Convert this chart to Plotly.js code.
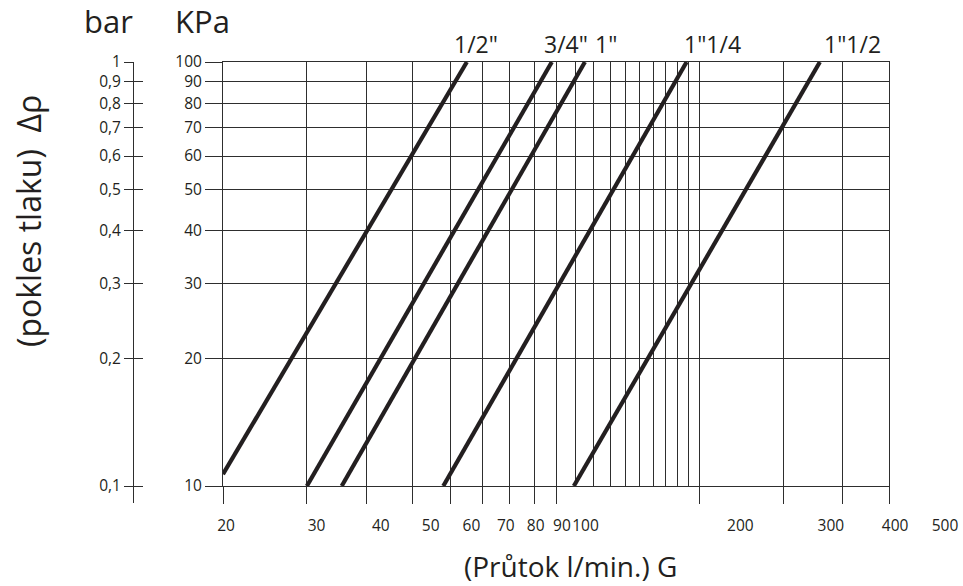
<!DOCTYPE html>
<html>
<head>
<meta charset="utf-8">
<script src="https://cdn.plot.ly/plotly-3.0.1.min.js"></script>
<style>html,body{margin:0;padding:0;background:#fff}#chart{width:963px;height:586px}</style>
</head>
<body>
<div id="chart"></div>
<script>
// ---- data ----
const sizes = ['1/2"', '3/4"', '1"', '1"1/4', '1"1/2'];
const flowStart = [20, 30, 35.5, 58, 109];      // G (l/min) at lower end
const flowEnd   = [65, 98, 115, 188, 358];      // G (l/min) at upper end
const dpStart   = [10.66, 10, 10, 10, 10];      // Δp (kPa) at lower end
const dpEnd     = [100, 100, 100, 100, 100];    // Δp (kPa) at upper end

const flowTicks = [20, 30, 40, 50, 60, 70, 80, 90, 100, 200, 300, 400, 500];
const flowMinor = [110, 120, 130, 140, 150, 160, 170, 180, 190];
const kpaTicks  = [10, 20, 30, 40, 50, 60, 70, 80, 90, 100];
const barTicks  = [0.1, 0.2, 0.3, 0.4, 0.5, 0.6, 0.7, 0.8, 0.9, 1];
const barText   = ['0,1', '0,2', '0,3', '0,4', '0,5', '0,6', '0,7', '0,8', '0,9', '1'];

// ---- style / layout helpers ----
const labelShift = [9, 14, 21, 26, 33];
const W = 963, H = 586, T = 62, B = 60;
const PH = H - T - B;
const px2x = p => p / W;
const px2y = p => (H - B - p) / PH;
const ink = '#231f20';
const grid = '#2e2e2e';
const GW = 1;
const FONT = '"Open Sans", "Noto Sans", sans-serif';
const TICK = 15.5;

const traces = sizes.map((s, i) => ({
  type: 'scatter', mode: 'lines', name: s,
  x: [flowStart[i], flowEnd[i]],
  y: [dpStart[i], dpEnd[i]],
  line: {color: ink, width: 4.2},
  xaxis: 'x', yaxis: 'y', showlegend: false, hoverinfo: 'skip'
}));
// dummy traces so that the auxiliary axes are drawn
traces.push({type: 'scatter', x: [], y: [], xaxis: 'x2', yaxis: 'y2', showlegend: false});
traces.push({type: 'scatter', x: [], y: [], xaxis: 'x2', yaxis: 'y3', showlegend: false});

const yBottom = px2y(486);
const barBottom = px2y(503);
const barRange = [-1 - (503 - 486) / (486 - 62), 0];

const annotations = sizes.map((s, i) => ({
  text: s, xref: 'x', yref: 'paper', x: Math.log10(flowEnd[i]), y: px2y(44),
  xanchor: 'center', yanchor: 'middle', xshift: labelShift[i], showarrow: false,
  font: {family: FONT, size: 23, color: ink}
}));
annotations.push(
  {text: 'bar', xref: 'paper', yref: 'paper', x: px2x(108), y: px2y(21), showarrow: false,
   xanchor: 'center', yanchor: 'middle', font: {family: FONT, size: 31, color: ink}},
  {text: 'KPa', xref: 'paper', yref: 'paper', x: px2x(202), y: px2y(21), showarrow: false,
   xanchor: 'center', yanchor: 'middle', font: {family: FONT, size: 31, color: ink}},
  {text: '(pokles tlaku)\u00a0\u00a0Δρ', xref: 'paper', yref: 'paper', x: px2x(28), y: px2y(221),
   showarrow: false, textangle: -90, xanchor: 'center', yanchor: 'middle',
   font: {family: FONT, size: 32, color: ink}},
  {text: '(Průtok l/min.) G', xref: 'paper', yref: 'paper', x: px2x(570), y: px2y(566),
   showarrow: false, xanchor: 'center', yanchor: 'middle',
   font: {family: FONT, size: 28, color: ink}}
);

const layout = {
  width: W, height: H,
  margin: {l: 0, r: 0, t: T, b: B, pad: 0},
  paper_bgcolor: '#ffffff', plot_bgcolor: 'rgba(0,0,0,0)',
  showlegend: false,
  xaxis: {
    type: 'log', range: [Math.log10(20), Math.log10(500)],
    domain: [px2x(223), px2x(889)], anchor: 'y',
    tickmode: 'array', tickvals: flowTicks, showticklabels: false,
    ticks: 'outside', ticklen: 17, tickwidth: GW, tickcolor: grid,
    showgrid: true, gridcolor: grid, gridwidth: GW,
    minor: {tickmode: 'array', tickvals: flowMinor, ticks: '', showgrid: true, gridcolor: grid, gridwidth: GW},
    showline: true, mirror: true, linecolor: grid, linewidth: GW,
    zeroline: false, fixedrange: true
  },
  yaxis: {
    type: 'log', range: [1, 2],
    domain: [yBottom, 1], anchor: 'x',
    tickmode: 'array', tickvals: kpaTicks, ticktext: kpaTicks.map(String),
    ticks: 'outside', ticklen: 17, tickwidth: GW, tickcolor: grid,
    tickfont: {family: FONT, size: TICK, color: ink},
    showgrid: true, gridcolor: grid, gridwidth: GW,
    showline: true, mirror: true, linecolor: grid, linewidth: GW,
    zeroline: false, fixedrange: true
  },
  // axis carrying the printed flow labels
  xaxis2: {
    type: 'log', range: [Math.log10(20), Math.log10(500)],
    domain: [px2x(226), px2x(945)], anchor: 'free', position: px2y(514),
    tickmode: 'array', tickvals: flowTicks, ticktext: flowTicks.map(String),
    tickangle: 0,
    ticks: '', showgrid: false, showline: false, zeroline: false,
    tickfont: {family: FONT, size: TICK, color: ink}, fixedrange: true
  },
  // bar scale (outer ticks + labels)
  yaxis2: {
    type: 'log', range: barRange,
    domain: [barBottom, 1], anchor: 'free', position: px2x(133),
    tickmode: 'array', tickvals: barTicks, ticktext: barText,
    ticks: 'outside', ticklen: 9, tickwidth: GW, tickcolor: grid,
    tickfont: {family: FONT, size: TICK, color: ink},
    showgrid: false, showline: true, linecolor: grid, linewidth: GW,
    zeroline: false, fixedrange: true
  },
  // bar scale (inner half of crossing ticks)
  yaxis3: {
    type: 'log', range: barRange,
    domain: [barBottom, 1], anchor: 'free', position: px2x(133),
    tickmode: 'array', tickvals: barTicks, showticklabels: false,
    ticks: 'inside', ticklen: 9, tickwidth: GW, tickcolor: grid,
    showgrid: false, showline: false, zeroline: false, fixedrange: true
  },
  annotations: annotations
};

Plotly.newPlot('chart', traces, layout, {staticPlot: true, displayModeBar: false});
</script>
</body>
</html>
